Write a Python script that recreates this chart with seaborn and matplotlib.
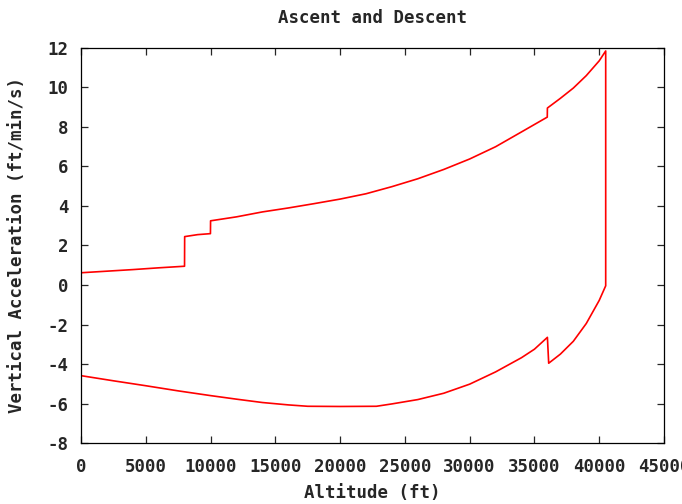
import numpy as np
import pandas as pd
import matplotlib
matplotlib.use("Agg")
import matplotlib.pyplot as plt
import seaborn as sns

# ascent: altitude (ft) and vertical acceleration
ascent_alt = [0, 2000, 4000, 6000, 7990, 8000, 9000, 9990, 10000, 12000, 14000,
              16000, 18000, 20000, 22000, 24000, 26000, 28000, 30000, 32000,
              34000, 35990, 36000, 37000, 38000, 39000, 40000, 40500]
ascent_acc = [0.62, 0.70, 0.78, 0.87, 0.95, 2.45, 2.55, 2.60, 3.25, 3.45, 3.70,
              3.90, 4.12, 4.35, 4.62, 4.98, 5.38, 5.85, 6.38, 7.00,
              7.75, 8.50, 8.96, 9.45, 9.97, 10.60, 11.35, 11.85]

# descent: from the top back down to the ground
descent_alt = [40500, 40000, 39000, 38000, 37000, 36100, 36000, 35000, 34000,
               32000, 30000, 28000, 26000, 24000, 22800, 20000, 17500, 16000,
               14000, 12000, 10000, 7500, 5000, 2500, 0]
descent_acc = [-0.04, -0.78, -1.95, -2.85, -3.50, -3.96, -2.65, -3.25, -3.68,
               -4.40, -5.02, -5.48, -5.80, -6.02, -6.14, -6.15, -6.14, -6.07,
               -5.95, -5.78, -5.60, -5.36, -5.10, -4.85, -4.59]

x_ticks = [0, 5000, 10000, 15000, 20000, 25000, 30000, 35000, 40000, 45000]
y_ticks = [-8, -6, -4, -2, 0, 2, 4, 6, 8, 10, 12]

df = pd.DataFrame({
    "Altitude": ascent_alt + descent_alt,
    "Accel": ascent_acc + descent_acc,
})

sns.set_style("ticks")
plt.rcParams["font.family"] = ["DejaVu Sans Mono"]
FS = 12.5

fig = plt.figure(figsize=(6.82, 5.04), dpi=100)
ax = fig.add_axes([0.1188, 0.121, 0.8548, 0.7838])

sns.lineplot(data=df, x="Altitude", y="Accel", sort=False, estimator=None,
             color="#ff0000", linewidth=1.2, ax=ax)

ax.set_xlim(0, 45000)
ax.set_ylim(-8, 12)
ax.set_xticks(x_ticks)
ax.set_yticks(y_ticks)
ax.set_xticklabels([str(t) for t in x_ticks])
ax.set_yticklabels([str(t) for t in y_ticks])

for s in ax.spines.values():
    s.set_visible(True)
    s.set_color("black")
    s.set_linewidth(0.9)

ax.tick_params(direction="in", length=5, width=0.9, top=True, right=True,
               labelsize=FS)
ax.tick_params(axis="x", pad=11)
ax.tick_params(axis="y", pad=9)
for lab in ax.get_xticklabels() + ax.get_yticklabels():
    lab.set_fontweight("bold")

ax.set_title("Ascent and Descent", fontsize=FS, fontweight="bold", pad=18)
ax.set_xlabel("Altitude (ft)", fontsize=FS, fontweight="bold")
ax.set_ylabel("Vertical Acceleration (ft/min/s)", fontsize=FS,
              fontweight="bold")
ax.xaxis.set_label_coords(0.5, -0.104)
ax.yaxis.set_label_coords(-0.094, 0.5)

fig.savefig("out.png", dpi=100)
